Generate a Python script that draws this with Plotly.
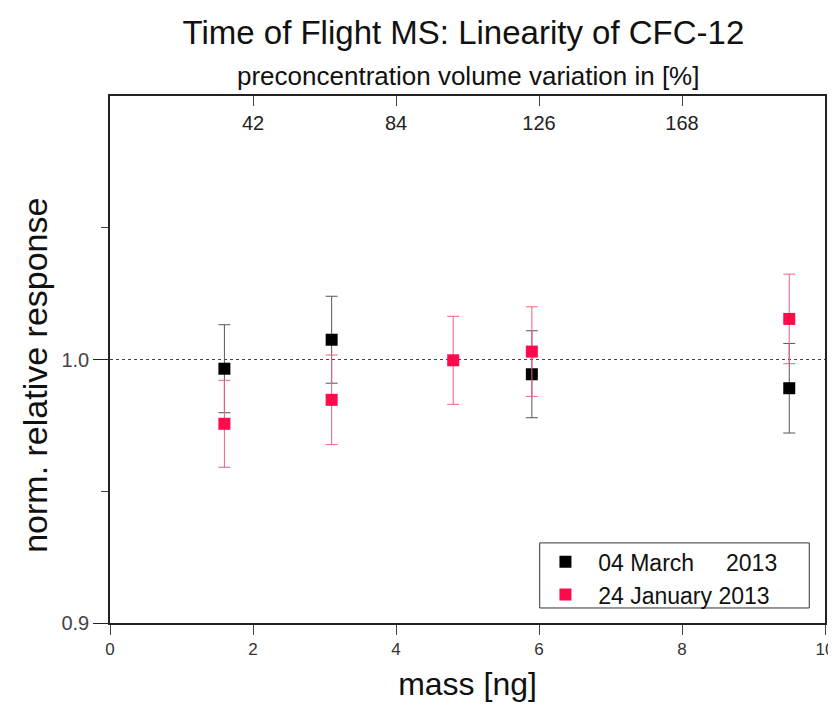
import plotly.graph_objects as go

# data
mass_march = [1.6, 3.1, 5.9, 9.5]
resp_march = [0.9965, 1.0075, 0.9944, 0.9891]
err_march = [0.0167, 0.0165, 0.0165, 0.0170]

mass_jan = [1.6, 3.1, 4.8, 5.9, 9.5]
resp_jan = [0.9756, 0.9847, 0.9997, 1.0030, 1.0154]
err_jan = [0.0165, 0.0170, 0.0167, 0.0170, 0.0170]

top_ticks = [42, 84, 126, 168]
x_ticks = [0, 2, 4, 6, 8, 10]
y_ticks = [0.9, 1.0, 1.1]
y_ticktext = ["0.9", "1.0", "1.1"]

FONT = "Liberation Sans, Arial, sans-serif"
BLACK = "#000000"
RED = "#ff0a4a"
NB = "\u00a0"

fig = go.Figure()

fig.add_trace(go.Scatter(
    x=mass_march, y=resp_march, mode="markers",
    name=NB * 2 + "04 March" + NB * 5 + "2013",
    marker=dict(symbol="square", size=12, color=BLACK),
    error_y=dict(type="data", array=err_march, color="#555555", thickness=1, width=6),
))
fig.add_trace(go.Scatter(
    x=mass_jan, y=resp_jan, mode="markers",
    name=NB * 2 + "24 January 2013",
    marker=dict(symbol="square", size=12, color=RED),
    error_y=dict(type="data", array=err_jan, color="#f06080", thickness=1, width=6),
))
# empty helper trace so the top (percent) axis is drawn
fig.add_trace(go.Scatter(
    x=top_ticks, y=[None] * len(top_ticks), xaxis="x2", yaxis="y",
    mode="markers", showlegend=False, hoverinfo="skip",
))

fig.add_shape(type="line", xref="paper", yref="y", x0=0, x1=1, y0=1.0, y1=1.0,
              line=dict(color="#444444", width=1, dash="dot"), layer="below")
# legend frame
fig.add_shape(type="rect", xref="paper", yref="paper", x0=0.601, x1=0.978,
              y0=0.0285, y1=0.152, line=dict(color="#333333", width=1))

fig.add_annotation(text="preconcentration volume variation in [%]",
                   xref="paper", yref="paper", x=0.5, y=1, xanchor="center",
                   yanchor="bottom", yshift=3, showarrow=False,
                   font=dict(size=26, color="#111111"))
fig.add_annotation(text="norm. relative response", textangle=-90,
                   xref="paper", yref="paper", x=0, y=0.469, xshift=-75,
                   xanchor="center", yanchor="middle", showarrow=False,
                   font=dict(size=34, color="#111111"))

fig.update_layout(
    width=828, height=694,
    margin=dict(l=102, r=11, t=88, b=79),
    paper_bgcolor="white", plot_bgcolor="white",
    font=dict(family=FONT, color="#222222"),
    title=dict(text="Time of Flight MS: Linearity of CFC-12", x=0.55, xanchor="center",
               y=1 - 24 / 694, yanchor="middle", font=dict(size=33, color="#111111")),
    showlegend=True,
    legend=dict(x=0.609, y=0.157, xanchor="left", yanchor="top",
                borderwidth=0, bgcolor="rgba(0,0,0,0)",
                font=dict(size=23, color="#111111"), itemwidth=30,
                tracegroupgap=0),
    xaxis=dict(range=[0, 10], tickvals=x_ticks, ticks="outside", ticklen=10,
               showline=True, linecolor="#222222", linewidth=1.5, mirror=True,
               showgrid=False, zeroline=False, automargin=False,
               tickfont=dict(size=17, color="#333333"),
               title=dict(text="mass [ng]", font=dict(size=32, color="#111111"), standoff=21)),
    xaxis2=dict(range=[0, 210], overlaying="x", side="top", anchor="y",
                tickvals=top_ticks, ticks="inside", ticklen=10,
                ticklabelposition="inside", ticklabelstandoff=11,
                showline=True, linecolor="#222222",
                showgrid=False, zeroline=False, automargin=False,
                tickfont=dict(size=20, color="#222222")),
    yaxis=dict(range=[0.9, 1.1], tickvals=y_ticks, ticktext=y_ticktext,
               ticks="outside", ticklen=15, tickwidth=1.2, tickcolor="#222222",
               minor=dict(dtick=0.05, ticks="outside", ticklen=7, tickcolor="#444444"),
               showline=True, linecolor="#222222", linewidth=1.5, mirror=True,
               showgrid=False, zeroline=False, automargin=False,
               tickfont=dict(size=20, color="#444444")),
)

fig.write_html("out.html")
